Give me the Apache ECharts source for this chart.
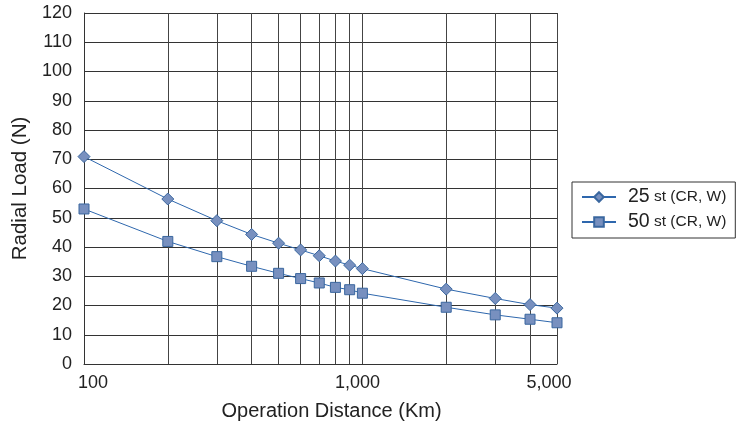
<!DOCTYPE html>
<html>
<head>
<meta charset="utf-8">
<script src="https://cdn.jsdelivr.net/npm/echarts@6/dist/echarts.min.js"></script>
<style>
  html, body { margin: 0; padding: 0; background: #fff; }
  #chart { width: 736px; height: 429px; }
</style>
</head>
<body>
<div id="chart"></div>
<script>
// Operation distance (km) at which each load was measured
const distances = [100, 200, 300, 400, 500, 600, 700, 800, 900, 1000, 2000, 3000, 4000, 5000];
// Radial load (N) for each stroke
const load25 = [70.9, 56.4, 49.0, 44.3, 41.3, 39.0, 37.0, 35.2, 33.8, 32.6, 25.6, 22.4, 20.3, 19.1];
const load50 = [53.0, 41.9, 36.7, 33.4, 31.0, 29.2, 27.7, 26.2, 25.4, 24.2, 19.4, 16.8, 15.3, 14.1];
const seriesNames = ['25 st (CR, W)', '50 st (CR, W)'];
// Gridline positions and labelled ticks on the distance axis
const xGridValues = [100, 200, 300, 400, 500, 600, 700, 800, 900, 1000, 2000, 3000, 4000, 5000];
const xLabelValues = [100, 1000, 5000];

const FONT = '"Liberation Sans", Arial, sans-serif';
const chart = echarts.init(document.getElementById('chart'));

const pair = (ys) => distances.map((d, i) => [d, ys[i]]);

const lineColor = '#2e67ad';
const markerFill = '#7890bf';
const markerBorder = '#3a679f';
const labelStyle = { fontFamily: FONT, fontSize: 18, color: '#222' };

chart.setOption({
  animation: false,
  grid: { left: 84, top: 13, width: 473, height: 351, containLabel: false },
  xAxis: {
    type: 'log',
    logBase: 10,
    min: 100,
    max: 5000,
    name: 'Operation Distance (Km)',
    nameLocation: 'middle',
    nameGap: 37,
    nameTextStyle: { fontFamily: FONT, fontSize: 20, color: '#222', padding: [0, 0, 0, 22] },
    axisLine: { show: true, lineStyle: { color: '#333', width: 1 } },
    axisTick: { show: false, customValues: xGridValues },
    axisLabel: {
      customValues: xLabelValues,
      fontFamily: FONT, fontSize: 18, color: '#222', margin: 10,
      // the end labels sit slightly inward from their gridlines
      formatter: (v) => {
        const t = Number(v).toLocaleString('en-US');
        if (v <= 100) return '{first|' + t + '}';
        if (v >= 5000) return '{last|' + t + '}';
        return '{mid|' + t + '}';
      },
      rich: {
        first: Object.assign({ padding: [0, 0, 0, 18] }, labelStyle),
        mid: Object.assign({ padding: [0, 10, 0, 0] }, labelStyle),
        last: Object.assign({ padding: [0, 16, 0, 0] }, labelStyle)
      }
    },
    splitLine: { show: true, lineStyle: { color: '#444', width: 1 } }
  },
  yAxis: {
    type: 'value',
    min: 0,
    max: 120,
    interval: 10,
    name: 'Radial Load (N)',
    nameLocation: 'middle',
    nameGap: 48,
    nameTextStyle: { fontFamily: FONT, fontSize: 20.5, color: '#222' },
    axisLine: { show: true, lineStyle: { color: '#333', width: 1 } },
    axisTick: { show: false },
    axisLabel: { fontFamily: FONT, fontSize: 18, color: '#222', margin: 12 },
    splitLine: { show: true, lineStyle: { color: '#333', width: 1 } }
  },
  legend: {
    orient: 'vertical',
    left: 572,
    top: 182,
    padding: [5, 9, 6, 9],
    itemGap: 5,
    itemWidth: 34,
    itemHeight: 12,
    borderColor: '#333',
    borderWidth: 1,
    backgroundColor: '#fff',
    data: seriesNames,
    formatter: (name) => {
      const parts = name.split(' ');
      return '{big|' + parts[0] + '}{small| ' + parts.slice(1).join(' ') + '}';
    },
    textStyle: {
      fontFamily: FONT,
      color: '#222',
      rich: {
        big: { fontFamily: FONT, fontSize: 19.5, color: '#222', lineHeight: 20, padding: [0, 0, 0, 7] },
        small: { fontFamily: FONT, fontSize: 15.5, color: '#222', lineHeight: 20 }
      }
    }
  },
  series: [
    {
      name: seriesNames[0],
      type: 'line',
      data: pair(load25),
      symbol: 'diamond',
      symbolSize: 12,
      lineStyle: { color: lineColor, width: 1 },
      itemStyle: { color: markerFill, borderColor: markerBorder, borderWidth: 1 },
      z: 3
    },
    {
      name: seriesNames[1],
      type: 'line',
      data: pair(load50),
      symbol: 'rect',
      symbolSize: 10,
      lineStyle: { color: lineColor, width: 1 },
      itemStyle: { color: markerFill, borderColor: markerBorder, borderWidth: 1 },
      z: 3
    }
  ]
});
</script>
</body>
</html>
